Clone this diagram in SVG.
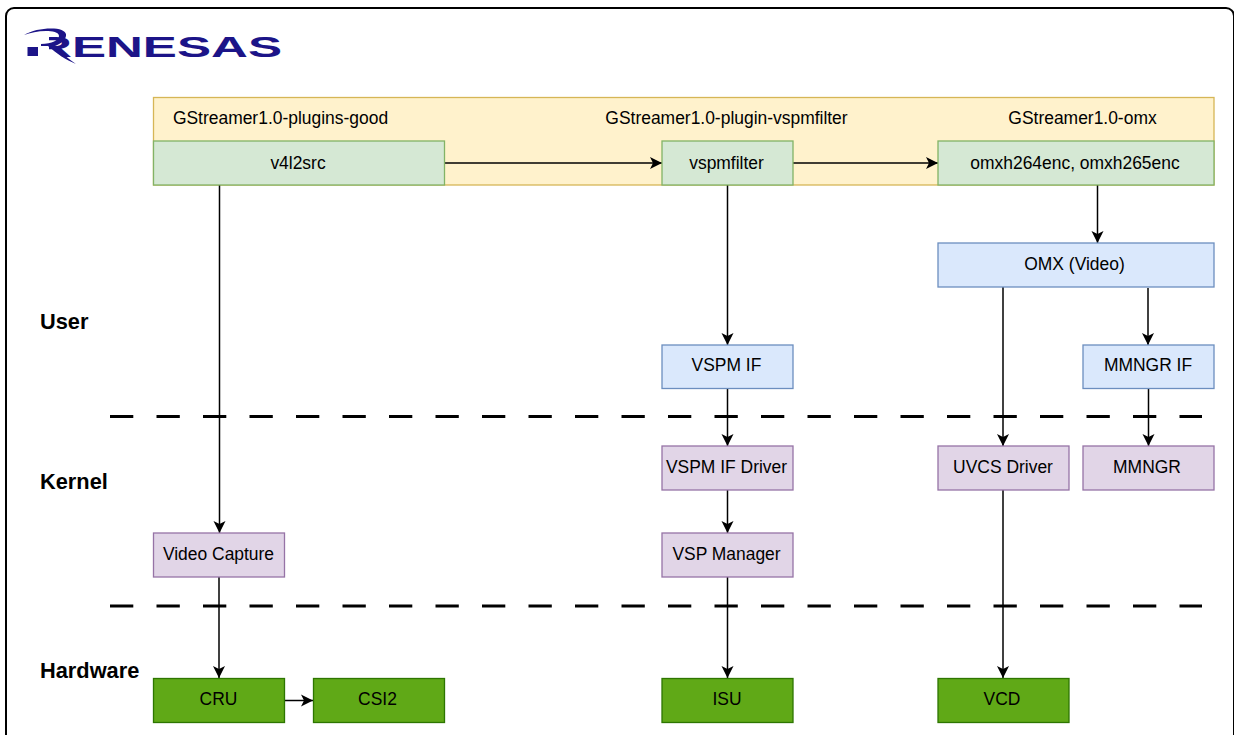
<svg xmlns="http://www.w3.org/2000/svg" width="1234" height="735" viewBox="0 0 1234 735">
<defs>
<marker id="arrow" markerUnits="userSpaceOnUse" markerWidth="14" markerHeight="14" refX="12.500" refY="7" orient="auto">
<path d="M0.500 1 L12.500 7 L0.500 13 L3.500 7 Z" fill="#000"/>
</marker>
</defs>
<style>
text{font-family:"Liberation Sans",Arial,sans-serif;fill:#000}
.t{font-size:17.45px;text-anchor:middle}
.l{font-size:21.8px;font-weight:bold}
rect{stroke-width:1.3}
.g{fill:#d5e8d4;stroke:#82b366}
.b{fill:#dae8fc;stroke:#6c8ebf}
.p{fill:#e1d5e7;stroke:#9673a6}
.h{fill:#60a917;stroke:#2d7600}
.y{fill:#fff2cc;stroke:#d6b656}
.c{fill:none;stroke:#000;stroke-width:1.5;marker-end:url(#arrow)}
.d{fill:none;stroke:#000;stroke-width:3;stroke-dasharray:23.3 23.2}
</style>
<rect width="1234" height="735" fill="#fff" style="stroke:none"/>
<rect id="frame" x="6" y="8" width="1228" height="745" rx="8" fill="#fff" stroke="#000" style="stroke-width:2"/>
<g id="logo">
<text x="35" y="57" font-size="29.500" font-weight="bold" textLength="247" lengthAdjust="spacingAndGlyphs" style="fill:#1c1488">RENESAS</text>
<rect x="30" y="32" width="19" height="27" fill="#fff" style="stroke:none"/>
<rect x="27.500" y="47" width="10.500" height="9" fill="#1c1488" style="stroke:none"/>
<path d="M24 35 C32 30 44 28 54 28.500 C62 29 67 32 66 36 C65 41 60 44 55 46 C62 53 68 59 76 64 C66 60 56 53 48 46 L41 46 L41 44 C52 44 59 40 59 36 C59 32 52 31 46 31 C38 31 30 33 24 35 Z" fill="#1c1488"/>
</g>
<g id="bands">
<rect id="plugin-band" class="y" x="153.500" y="97.500" width="1060.500" height="87.500"/>
<text class="t" x="280.500" y="124">GStreamer1.0-plugins-good</text>
<text class="t" x="726.500" y="124">GStreamer1.0-plugin-vspmfilter</text>
<text class="t" x="1082.500" y="124">GStreamer1.0-omx</text>
</g>
<g id="dividers">
<path class="d" d="M110 416.500H1202"/>
<path class="d" d="M110 606H1202"/>
</g>
<g id="connectors">
<path class="c" d="M444 163H662"/>
<path class="c" d="M793 163H938"/>
<path class="c" d="M219.500 185V533"/>
<path class="c" d="M727.500 185V345"/>
<path class="c" d="M1097.500 185V243"/>
<path class="c" d="M1003 287V446"/>
<path class="c" d="M1148 288V345"/>
<path class="c" d="M727.500 388V446"/>
<path class="c" d="M1148.500 388V446"/>
<path class="c" d="M727.500 490V533"/>
<path class="c" d="M219 577V678"/>
<path class="c" d="M727.500 577V678"/>
<path class="c" d="M1003 490V678"/>
<path class="c" d="M285 700.500H313"/>
</g>
<g id="v4l2src"><rect class="g" x="153.500" y="141" width="291" height="44"/><text class="t" x="298" y="168.500">v4l2src</text></g>
<g id="vspmfilter"><rect class="g" x="662" y="141" width="131" height="44"/><text class="t" x="726.500" y="168.500">vspmfilter</text></g>
<g id="omxenc"><rect class="g" x="938" y="141" width="276" height="44"/><text class="t" x="1075" y="168.500">omxh264enc, omxh265enc</text></g>
<g id="omx"><rect class="b" x="938" y="243" width="276" height="44"/><text class="t" x="1074.500" y="270">OMX (Video)</text></g>
<g id="vspm-if"><rect class="b" x="662" y="345" width="131" height="43.500"/><text class="t" x="726.500" y="371">VSPM IF</text></g>
<g id="mmngr-if"><rect class="b" x="1083" y="345" width="131" height="43.500"/><text class="t" x="1148" y="371">MMNGR IF</text></g>
<g id="vspm-if-driver"><rect class="p" x="662" y="446" width="131" height="44"/><text class="t" x="726.500" y="473">VSPM IF Driver</text></g>
<g id="uvcs-driver"><rect class="p" x="938" y="446" width="131" height="44"/><text class="t" x="1003" y="473">UVCS Driver</text></g>
<g id="mmngr"><rect class="p" x="1083" y="446" width="131" height="44"/><text class="t" x="1147" y="473">MMNGR</text></g>
<g id="video-capture"><rect class="p" x="153.500" y="533" width="131" height="44"/><text class="t" x="218.500" y="560">Video Capture</text></g>
<g id="vsp-manager"><rect class="p" x="662" y="533" width="131" height="44"/><text class="t" x="726.500" y="560">VSP Manager</text></g>
<g id="cru"><rect class="h" x="153.500" y="678.500" width="131" height="44"/><text class="t" x="218.500" y="705">CRU</text></g>
<g id="csi2"><rect class="h" x="313.500" y="678.500" width="131" height="44"/><text class="t" x="377.500" y="705">CSI2</text></g>
<g id="isu"><rect class="h" x="662" y="678.500" width="131" height="44"/><text class="t" x="727" y="705">ISU</text></g>
<g id="vcd"><rect class="h" x="938" y="678.500" width="131" height="44"/><text class="t" x="1002" y="705">VCD</text></g>
<g id="layer-labels">
<text class="l" x="40" y="329">User</text>
<text class="l" x="40" y="488.500">Kernel</text>
<text class="l" x="40" y="678">Hardware</text>
</g>
</svg>
